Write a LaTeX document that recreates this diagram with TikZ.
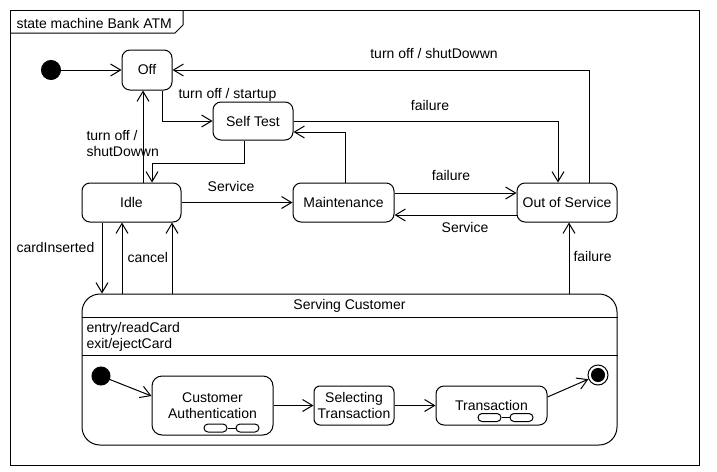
\documentclass[tikz,border=0pt]{standalone}
\usepackage{fontspec}
\setmainfont{Liberation Sans}
\usepackage{tikz}
\usetikzlibrary{shapes,arrows.meta}

\begin{document}
\begin{tikzpicture}[x=1pt, y=-1pt, line width=1pt,
	font=\fontsize{14}{16}\selectfont,
	state/.style={draw, rounded corners=8, align=center, inner sep=0, minimum height=39},
	circ/.style={circle, draw, fill, inner sep=0, minimum size=19},
	capsule/.style={draw, rounded corners=4, inner sep=0, minimum width=23, minimum height=8},
	lbl/.style={inner sep=0},
	arr/.style={-{Straight Barb[length=10pt,width=12pt]}}
]
\useasboundingbox (0,0) rectangle (717,471);

% frame
\draw (10,10) rectangle (699,465);
\draw (10,33) -- (175,33) -- (183,25) -- (183,10);
\node[lbl, anchor=west] at (16,23) {state machine Bank ATM};

% states
\node [circ] (init) at (51,70) {};
\node[state, minimum width=50, minimum height=40] (off) at (147,70) {Off};
\node[state, minimum width=80, minimum height=38] (st) at (253,121) {Self Test};
\node[state, minimum width=99] (idle) at (131.5,202.5) {Idle};
\node[state, minimum width=101] (mt) at (343.5,202.5) {Maintenance};
\node[state, minimum width=100] (oos) at (567,202.5) {Out of Service};

% composite state
\node[draw, rounded corners=18, inner sep=0, minimum width=535, minimum height=151] (sc) at (349.5,369.5) {};
\node[lbl] at (349.5,306) {Serving Customer};
\draw ([yshift=-24]sc.north west) -- ([yshift=-24]sc.north east);
\draw ([yshift=-62]sc.north west) -- ([yshift=-62]sc.north east);
\node[lbl, anchor=west, align=left] at (86,337) {entry/readCard\\exit/ejectCard};

\node [circ, minimum size=18] (init2) at (101,376) {};
\node[state, minimum width=121, minimum height=59, rounded corners=10] (ca) at (212.5,405.5) {Customer\\Authentication};
\node[state, minimum width=80, rounded corners=6] (sel) at (354,405.5) {Selecting\\Transaction};
\node[state, minimum width=111] (tr) at (491.5,405.5) {Transaction};
\node[circle, draw, inner sep=0, minimum size=20] (fin) at (598,375) {};
\node[circ, minimum size=13] at (fin) {};

\node[capsule] (ca1) at (215.5,428) {};
\node[capsule] (ca2) at (247.5,428) {};
\draw (ca1) -- (ca2);
\node[capsule] (tr1) at (489.5,417.5) {};
\node[capsule] (tr2) at (521.5,417.5) {};
\draw (tr1) -- (tr2);

% transitions
\draw[arr] (init) -- (off);
\draw[arr] ([xshift=22]oos.north) |- (off.east);
\node[lbl] at (434,53) {turn off / shutDowwn};
\draw[arr] ([xshift=15]off.south) |- (st.west);
\node[lbl, anchor=west] at (178,95) {turn off / startup};
\draw[arr] ([xshift=11.5]idle.north) -- ([xshift=-4]off.south);
\node[lbl, anchor=west, align=left] at (86,143) {turn off /\\shutDowwn};
\draw[arr] ([xshift=-9]st.south) -- ++(0,23) -| ([xshift=20.5]idle.north);
\draw[arr] (idle) -- (mt);
\node[lbl] at (231,186) {Service};
\draw[arr] ([xshift=1.5]mt.north) |- ([yshift=-11]st.east);
\draw[arr] (st.east) -| ([xshift=-9]oos.north);
\node[lbl] at (430,105) {failure};
\draw[arr] ([yshift=9.5]mt.east) -- ([yshift=9.5]oos.west);
\node[lbl] at (451,175) {failure};
\draw[arr] ([yshift=-12.5]oos.west) -- ([yshift=-12.5]mt.east);
\node[lbl] at (465,227) {Service};

\draw[arr] (idle.south) ++(-29.5,0) coordinate (ci) -- (ci |- sc.north);
\node[lbl, anchor=west] at (16,247) {cardInserted};
\draw[arr] (sc.north) ++(-227.5,0) coordinate (cc) -- (cc |- idle.south);
\node[lbl, anchor=west] at (127,257) {cancel};
\draw[arr] (sc.north) ++(-177.5,0) coordinate (cd) -- (cd |- idle.south);
\draw[arr] (sc.north) ++(219.5,0) coordinate (cf) -- (cf |- oos.south);
\node[lbl, anchor=west] at (573,256) {failure};

\draw[arr] (init2) -- ([yshift=9.5]ca.west);
\draw[arr] (ca) -- (sel);
\draw[arr] (sel) -- (tr);
\draw[arr] ([yshift=8.5]tr.east) -- (fin);
\end{tikzpicture}
\end{document}
